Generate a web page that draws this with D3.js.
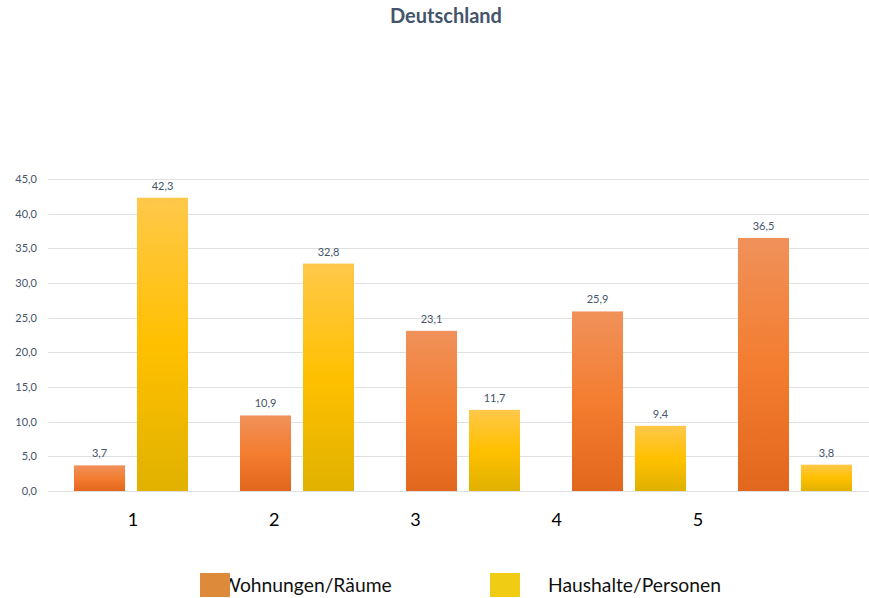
<!DOCTYPE html>
<html>
<head>
<meta charset="utf-8">
<script src="https://cdn.jsdelivr.net/npm/d3@7"></script>
<style>
  html, body { margin: 0; padding: 0; background: #fff; }
  svg { display: block; }
  text { font-family: Lato, "Open Sans", sans-serif; }
</style>
</head>
<body>
<svg id="chart" width="869" height="598"></svg>
<script>
const title = "Deutschland";
const categories = ["1", "2", "3", "4", "5"];
const seriesNames = ["Wohnungen/Räume", "Haushalte/Personen"];
const wohnungen = [3.7, 10.9, 23.1, 25.9, 36.5];
const haushalte = [42.3, 32.8, 11.7, 9.4, 3.8];
const yTicks = [0, 5, 10, 15, 20, 25, 30, 35, 40, 45];
const xLabels = ["1", "2", "3", "4", "5"];

const svg = d3.select("#chart");
const fmt = v => v.toFixed(1).replace(".", ",");

// gradients
const defs = svg.append("defs");
const gO = defs.append("linearGradient").attr("id", "gOrange").attr("x1", 0).attr("y1", 0).attr("x2", 0).attr("y2", 1);
gO.append("stop").attr("offset", "0%").attr("stop-color", "#f0915a");
gO.append("stop").attr("offset", "50%").attr("stop-color", "#f37d30");
gO.append("stop").attr("offset", "100%").attr("stop-color", "#e2671e");
const gY = defs.append("linearGradient").attr("id", "gYellow").attr("x1", 0).attr("y1", 0).attr("x2", 0).attr("y2", 1);
gY.append("stop").attr("offset", "0%").attr("stop-color", "#ffc84a");
gY.append("stop").attr("offset", "50%").attr("stop-color", "#ffc000");
gY.append("stop").attr("offset", "100%").attr("stop-color", "#e0b100");
const fills = ["url(#gOrange)", "url(#gYellow)"];

// title
svg.append("text").attr("x", 446).attr("y", 23).attr("text-anchor", "middle")
  .attr("font-size", 20).attr("font-weight", "bold").attr("fill", "#44546a").text(title);

// scales
const y = d3.scaleLinear().domain([0, 45]).range([491, 179]);
const x0 = d3.scaleBand().domain(categories).range([48, 878]).padding(0);
const x1 = d3.scaleBand().domain(seriesNames).range([26, 140]).paddingInner(0.19).paddingOuter(0);

// gridlines
svg.append("g").selectAll("line").data(yTicks).join("line")
  .attr("x1", 48).attr("x2", 869)
  .attr("y1", d => Math.round(y(d)) + 0.5).attr("y2", d => Math.round(y(d)) + 0.5)
  .attr("stroke", "#e0e0e0").attr("stroke-width", 1);

// y tick labels
svg.append("g").selectAll("text").data(yTicks).join("text")
  .attr("x", 37).attr("y", d => y(d)).attr("dy", "0.35em")
  .attr("text-anchor", "end").attr("font-size", 11).attr("fill", "#44546a")
  .text(d => fmt(d));

// bars
const rows = categories.map((c, i) => ({ cat: c, vals: [wohnungen[i], haushalte[i]] }));
const groups = svg.append("g").selectAll("g").data(rows).join("g")
  .attr("transform", d => `translate(${x0(d.cat)},0)`);
groups.selectAll("rect").data(d => d.vals.map((v, k) => ({ s: seriesNames[k], v, k }))).join("rect")
  .attr("x", d => x1(d.s)).attr("width", x1.bandwidth())
  .attr("y", d => y(d.v)).attr("height", d => y(0) - y(d.v))
  .attr("fill", d => fills[d.k]);
groups.selectAll("text").data(d => d.vals.map((v, k) => ({ s: seriesNames[k], v, k }))).join("text")
  .attr("x", d => x1(d.s) + x1.bandwidth() / 2).attr("y", d => y(d.v) - 8)
  .attr("text-anchor", "middle").attr("font-size", 11).attr("fill", "#44546a")
  .text(d => fmt(d.v));

// x labels (offset as in original)
const xl = d3.scalePoint().domain(xLabels).range([133, 698]);
svg.append("g").selectAll("text").data(xLabels).join("text")
  .attr("x", d => xl(d)).attr("y", 526).attr("text-anchor", "middle")
  .attr("font-size", 18).attr("fill", "#000").text(d => d);

// legend
const legColors = ["#dd8b3a", "#f0cc15"];
const legText = [221, 548];
const legRect = [200, 490];
seriesNames.forEach((n, i) => {
  svg.append("text").attr("x", legText[i]).attr("y", 592).attr("font-size", 19.3)
    .attr("fill", "#111").text(n);
  svg.append("rect").attr("x", legRect[i]).attr("y", 573).attr("width", 30).attr("height", 24)
    .attr("fill", legColors[i]);
});
</script>
</body>
</html>
